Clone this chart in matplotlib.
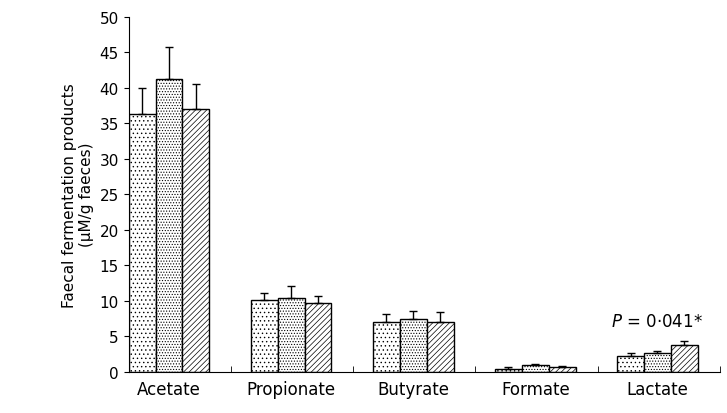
import matplotlib
matplotlib.use("Agg")
import matplotlib.pyplot as plt
import numpy as np

categories = ["Acetate", "Propionate", "Butyrate", "Formate", "Lactate"]
group1 = [36.3, 10.1, 7.0, 0.4, 2.2]
group2 = [41.3, 10.4, 7.4, 1.0, 2.6]
group3 = [37.0, 9.6, 7.0, 0.7, 3.7]
err1 = [3.7, 1.0, 1.1, 0.2, 0.4]
err2 = [4.5, 1.6, 1.2, 0.1, 0.3]
err3 = [3.5, 1.0, 1.4, 0.1, 0.6]

plt.rcParams["hatch.linewidth"] = 0.5
fig, ax = plt.subplots(figsize=(7.27, 4.14), dpi=100)
fig.subplots_adjust(left=0.177, right=0.99, top=0.957, bottom=0.1)

x = np.arange(len(categories))
w = 0.22
for off, vals, errs, hatch in [(-w, group1, err1, "...."),
                                (0, group2, err2, "......"),
                                (w, group3, err3, "//////")]:
    ax.bar(x + off, vals, w, color="white", edgecolor="black", linewidth=1,
           hatch=hatch, yerr=[[0] * len(errs), errs],
           error_kw=dict(ecolor="black", elinewidth=1, capsize=3, capthick=1))

ax.text(x[4], 5.8, "$P$ = 0\u00b7041*", ha="center", va="bottom", fontsize=12)

ax.set_xlim(-0.33, 4.51)
ax.set_ylim(0, 50)
ax.set_yticks(range(0, 51, 5))
ax.set_xticks(x)
ax.set_xticklabels(categories, fontsize=12)
ax.set_xticks(x[:-1] + 0.51, minor=True)
ax.set_xticks(list(x + 0.51), minor=True)
ax.tick_params(axis="x", which="major", length=0, pad=6)
ax.tick_params(axis="x", which="minor", length=4, direction="in")
ax.tick_params(axis="y", labelsize=11)
ax.set_ylabel("Faecal fermentation products\n(\u00b5M/g faeces)", fontsize=11)
ax.spines["top"].set_visible(False)
ax.spines["right"].set_visible(False)

fig.savefig("out.png", dpi=100)
